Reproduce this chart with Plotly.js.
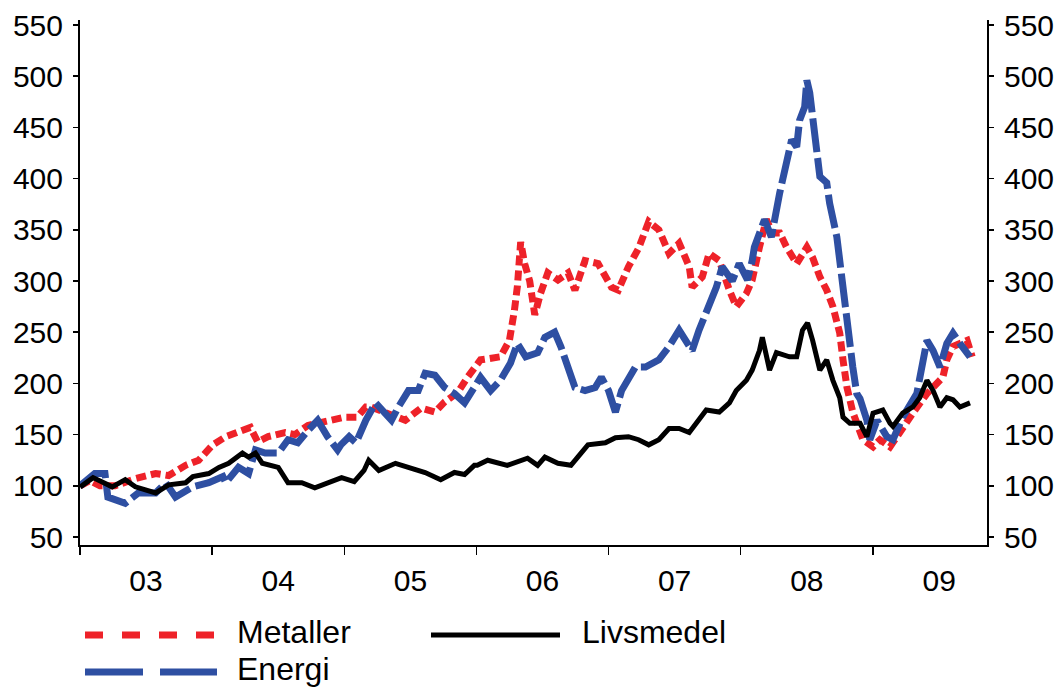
<!DOCTYPE html>
<html>
<head>
<meta charset="utf-8">
<script src="https://cdn.plot.ly/plotly-3.0.1.min.js"></script>
<style>
html,body{margin:0;padding:0;background:#fff;}
#chart{width:1062px;height:687px;}
</style>
</head>
<body>
<div id="chart"></div>
<script>
// ---- Data ----
var metallerDates = ["2003-01-01","2003-01-28","2003-02-25","2003-04-08","2003-06-03","2003-07-29","2003-09-03","2003-10-20","2003-11-25",
"2004-01-03","2004-02-08","2004-03-14","2004-04-16","2004-05-06","2004-06-04","2004-07-21","2004-08-17","2004-09-22","2004-11-26",
"2005-01-01","2005-02-05","2005-03-01","2005-03-15","2005-04-24","2005-06-18","2005-08-01","2005-09-08","2005-10-05","2005-11-10","2005-12-07",
"2006-01-12","2006-03-08","2006-04-02","2006-04-16","2006-04-24","2006-05-03","2006-05-14","2006-05-28","2006-06-11","2006-06-27","2006-07-17","2006-08-14","2006-09-11","2006-09-30","2006-10-28","2006-12-03","2006-12-23",
"2007-01-09","2007-01-28","2007-02-25","2007-03-25","2007-04-22","2007-05-20","2007-06-17","2007-07-15","2007-08-12","2007-08-20","2007-09-17","2007-10-06","2007-11-03","2007-12-01","2007-12-20",
"2008-01-17","2008-02-02","2008-02-22","2008-03-12","2008-03-29","2008-04-18","2008-05-07","2008-06-04","2008-07-02","2008-07-18","2008-08-07","2008-08-26","2008-09-12","2008-10-01","2008-10-10","2008-10-21","2008-11-06","2008-11-20","2008-12-04",
"2009-01-01","2009-01-20","2009-02-17","2009-03-16","2009-04-21","2009-05-30","2009-06-27","2009-07-13","2009-07-24","2009-08-10","2009-09-18","2009-10-02"];
var metallerValues = [100,105,100,100,107,112,110,120,125,
140,148,153,157,143,148,152,150,159,164,
167,167,177,177,171,164,176,172,182,191,206,
223,226,242,272,295,338,317,300,267,288,308,301,308,291,320,317,304,
294,291,314,332,358,350,327,337,314,294,304,327,320,291,275,
288,301,333,360,347,347,333,317,333,323,304,291,275,249,223,196,172,160,145,
138,145,138,151,171,190,200,206,223,236,242,226];

var energiDates = ["2003-01-01","2003-02-11","2003-03-11","2003-03-19","2003-05-06","2003-06-11","2003-07-29","2003-08-26","2003-09-22","2003-11-09","2003-12-23",
"2004-01-31","2004-02-08","2004-03-14","2004-04-11","2004-04-30","2004-05-27","2004-07-02","2004-07-29","2004-08-25","2004-09-22","2004-10-19","2004-11-15","2004-12-13","2004-12-22",
"2005-01-14","2005-02-02","2005-03-01","2005-03-28","2005-04-24","2005-05-11","2005-05-30","2005-06-27","2005-07-24","2005-08-12","2005-09-08","2005-10-05","2005-11-01","2005-11-29","2005-12-15",
"2006-01-12","2006-02-09","2006-03-08","2006-04-05","2006-04-24","2006-05-17","2006-06-19","2006-07-09","2006-08-05","2006-08-22","2006-09-11","2006-09-30","2006-10-28","2006-11-25","2006-12-12",
"2007-01-01","2007-01-20","2007-02-06","2007-03-16","2007-04-13","2007-05-20","2007-06-17","2007-07-15","2007-08-20","2007-09-08","2007-09-28","2007-10-26","2007-11-11","2007-12-09","2007-12-28",
"2008-01-20","2008-02-02","2008-02-08","2008-03-07","2008-03-26","2008-04-18","2008-05-07","2008-05-21","2008-06-04","2008-06-12","2008-06-26","2008-07-02","2008-07-10","2008-07-24","2008-08-07","2008-08-26","2008-09-03","2008-09-23","2008-10-01","2008-10-10","2008-10-21","2008-11-06","2008-11-17","2008-11-26","2008-12-15","2008-12-23",
"2009-01-12","2009-02-08","2009-02-25","2009-03-24","2009-05-02","2009-05-30","2009-06-16","2009-07-05","2009-07-24","2009-08-10","2009-08-29","2009-09-26"];
var energiValues = [100,112,112,89,83,93,93,103,89,99,103,
109,103,118,112,135,132,132,145,142,154,164,148,135,140,
148,142,164,181,171,164,177,193,193,210,208,196,190,181,190,
206,193,203,220,239,226,230,245,250,236,216,196,193,196,206,
193,172,193,216,216,223,236,252,232,252,269,294,314,300,317,
301,320,333,360,343,386,413,438,431,457,470,496,484,435,402,396,376,343,320,281,249,216,190,185,164,145,
164,148,145,167,190,242,232,216,239,249,239,226];

var livsmedelDates = ["2003-01-01","2003-01-06","2003-02-06","2003-03-31","2003-05-06","2003-06-03","2003-07-29","2003-09-03","2003-10-20","2003-11-09","2003-12-23",
"2004-01-20","2004-02-16","2004-03-25","2004-04-11","2004-04-30","2004-05-19","2004-07-02","2004-07-29","2004-09-05","2004-10-11","2004-11-15","2004-12-24",
"2005-01-28","2005-02-24","2005-03-09","2005-04-06","2005-05-22","2005-06-27","2005-08-12","2005-09-24","2005-11-01","2005-11-29","2005-12-26",
"2006-01-03","2006-02-01","2006-03-27","2006-05-22","2006-06-19","2006-07-09","2006-08-14","2006-09-19","2006-10-17","2006-11-05","2006-12-23",
"2007-01-20","2007-02-25","2007-03-25","2007-04-22","2007-05-20","2007-06-17","2007-07-15","2007-08-12","2007-08-31","2007-09-28","2007-11-03","2007-12-01","2007-12-20",
"2008-01-17","2008-02-02","2008-02-22","2008-03-01","2008-03-21","2008-04-09","2008-05-15","2008-06-04","2008-06-20","2008-07-04","2008-07-18","2008-08-07","2008-08-26","2008-09-12","2008-10-01","2008-10-10","2008-10-29","2008-11-26","2008-12-15",
"2009-01-01","2009-01-28","2009-02-17","2009-02-25","2009-03-24","2009-04-21","2009-05-10","2009-05-30","2009-06-16","2009-07-05","2009-07-24","2009-08-10","2009-08-29","2009-09-26"];
var livsmedelValues = [99,100,108,99,106,99,93,101,103,109,112,
118,122,132,128,132,122,118,103,103,98,103,108,
104,115,125,115,122,118,113,106,113,111,120,
120,125,120,127,120,128,122,120,132,140,142,
147,148,145,140,145,156,156,152,161,174,172,181,193,
203,213,232,245,213,230,226,226,252,259,242,213,223,203,186,167,161,161,148,
171,174,161,158,171,177,186,203,193,177,186,184,177,181];

var seriesNames = ["Metaller","Energi","Livsmedel"];
var yTicks = [50,100,150,200,250,300,350,400,450,500,550];

// ---- Styling ----
var RED = "#EE2229", BLUE = "#2E4FA2", BLACK = "#000000";
var FONT = "Liberation Sans, Arial, sans-serif";

var traces = [
  {x: metallerDates, y: metallerValues, name: seriesNames[0], type: "scatter", mode: "lines",
   line: {color: RED, width: 7, dash: "10px,5px"}, hoverinfo: "x+y"},
  {x: energiDates, y: energiValues, name: seriesNames[1], type: "scatter", mode: "lines",
   line: {color: BLUE, width: 7, dash: "34px,6px"}, hoverinfo: "x+y"},
  {x: livsmedelDates, y: livsmedelValues, name: seriesNames[2], type: "scatter", mode: "lines",
   line: {color: BLACK, width: 5}, hoverinfo: "x+y"},
  {x: livsmedelDates, y: livsmedelValues, yaxis: "y2", type: "scatter", mode: "lines",
   line: {color: "rgba(0,0,0,0)", width: 0}, showlegend: false, hoverinfo: "skip"}
];

function px2paperX(px){ return (px - 80) / 907; }
function px2paperY(py){ return (545 - py) / 525; }

var legendRowY = [632, 669];
var shapes = [
  {type: "line", xref: "paper", yref: "paper", x0: px2paperX(85), x1: px2paperX(217), y0: px2paperY(635), y1: px2paperY(635),
   line: {color: RED, width: 7, dash: "18px,19px"}},
  {type: "line", xref: "paper", yref: "paper", x0: px2paperX(431), x1: px2paperX(560), y0: px2paperY(635), y1: px2paperY(635),
   line: {color: BLACK, width: 5}},
  {type: "line", xref: "paper", yref: "paper", x0: px2paperX(85), x1: px2paperX(217), y0: px2paperY(672), y1: px2paperY(672),
   line: {color: BLUE, width: 7, dash: "58px,17px"}}
];
var annotations = [
  {xref: "paper", yref: "paper", x: px2paperX(236), y: px2paperY(legendRowY[0]), xanchor: "left", yanchor: "middle",
   text: seriesNames[0], showarrow: false, borderpad: 0, font: {family: FONT, size: 32, color: "#000"}},
  {xref: "paper", yref: "paper", x: px2paperX(581), y: px2paperY(legendRowY[0]), xanchor: "left", yanchor: "middle",
   text: seriesNames[2], showarrow: false, borderpad: 0, font: {family: FONT, size: 32, color: "#000"}},
  {xref: "paper", yref: "paper", x: px2paperX(236), y: px2paperY(legendRowY[1]), xanchor: "left", yanchor: "middle",
   text: seriesNames[1], showarrow: false, borderpad: 0, font: {family: FONT, size: 32, color: "#000"}}
];

var yAxisCommon = {
  range: [42.2, 554.9], tickvals: yTicks, ticktext: yTicks.map(String),
  showgrid: false, zeroline: false, showline: true, linecolor: "#000", linewidth: 2,
  ticks: "outside", ticklen: 5, tickwidth: 1.5, tickcolor: "#000", ticklabelstandoff: 4,
  tickfont: {family: FONT, size: 30, color: "#000"}, fixedrange: true
};

var layout = {
  width: 1062, height: 687,
  margin: {l: 80, r: 75, t: 20, b: 142},
  paper_bgcolor: "#fff", plot_bgcolor: "#fff",
  showlegend: false,
  font: {family: FONT, color: "#000"},
  xaxis: {
    type: "date", range: ["2003-01-01", "2009-11-12"],
    tick0: "2003-01-01", dtick: "M12", tickformat: "%y", ticklabelmode: "period",
    showgrid: false, zeroline: false, showline: true, linecolor: "#000", linewidth: 2,
    ticks: "outside", ticklen: 8, tickwidth: 1.5, tickcolor: "#000",
    tickfont: {family: FONT, size: 30, color: "#000"}
  },
  yaxis: Object.assign({side: "left"}, yAxisCommon),
  yaxis2: Object.assign({side: "right", overlaying: "y", anchor: "x"}, yAxisCommon),
  shapes: shapes,
  annotations: annotations
};

Plotly.newPlot("chart", traces, layout, {staticPlot: true, displayModeBar: false});
</script>
</body>
</html>
